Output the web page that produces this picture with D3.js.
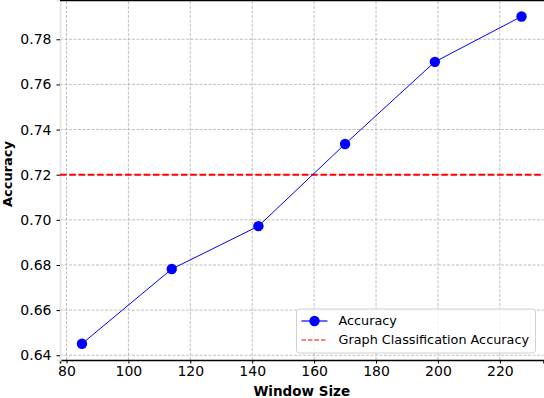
<!DOCTYPE html>
<html>

<head>
    <meta charset="UTF-8">
    <style>
        body { margin: 0; background: #fff; }
        svg { display: block; font-family: "DejaVu Sans", sans-serif; }
    </style>
</head>

<body>
    <svg></svg>
    <script src="https://d3js.org/d3.v7.min.js"></script>

    <script>

        let width = 544, height = 398;

        // data
        const windowSizes = [85, 114, 142, 170, 199, 227];
        const accuracy = [0.6451, 0.6782, 0.6972, 0.7336, 0.7700, 0.7901];
        const graphAccuracy = 0.72;
        const xTicks = [80, 100, 120, 140, 160, 180, 200, 220];
        const yTicks = [0.64, 0.66, 0.68, 0.70, 0.72, 0.74, 0.76, 0.78];
        const legendLabels = ["Accuracy", "Graph Classification Accuracy"];

        const margin = { top: 0, right: 0.5, bottom: 38, left: 60 };

        let svg = d3.select("svg")
            .attr("width", width)
            .attr("height", height)

        const x = d3.scaleLinear()
            .domain([77.9, 234.1])
            .range([margin.left, width - margin.right]);

        const y = d3.scaleLinear()
            .domain([0.6379, 0.7974])
            .range([height - margin.bottom, margin.top]);

        // grid
        let grid = svg.append("g").attr("class", "grid")
        grid.selectAll("line.gx")
            .data(xTicks)
            .enter()
            .append("line")
            .attr("x1", d => x(d)).attr("x2", d => x(d))
            .attr("y1", y.range()[0]).attr("y2", y.range()[1])
            .attr("stroke", "#b0b0b0")
            .attr("stroke-width", 0.8)
            .attr("stroke-dasharray", "3,1.5")
        grid.selectAll("line.gy")
            .data(yTicks)
            .enter()
            .append("line")
            .attr("y1", d => y(d)).attr("y2", d => y(d))
            .attr("x1", x.range()[0]).attr("x2", x.range()[1])
            .attr("stroke", "#b0b0b0")
            .attr("stroke-width", 0.8)
            .attr("stroke-dasharray", "3,1.5")

        // axes
        svg.append("g")
            .attr("transform", "translate(0," + y.range()[0] + ")")
            .call(d3.axisBottom(x).tickValues(xTicks).tickFormat(d3.format("d")).tickSize(3.5).tickPadding(3))
            .call(g => g.select(".domain").attr("stroke", "#000").attr("stroke-width", 1.5))
            .call(g => g.selectAll("text").attr("font-size", 14).attr("fill", "#000").attr("font-family", "DejaVu Sans"))

        svg.append("g")
            .attr("transform", "translate(" + x.range()[0] + ",0)")
            .call(d3.axisLeft(y).tickValues(yTicks).tickFormat(d3.format(".2f")).tickSize(3.5).tickPadding(5))
            .call(g => g.select(".domain").attr("stroke", "#e6e6e6").attr("stroke-width", 2))
            .call(g => g.selectAll("text").attr("font-size", 14).attr("fill", "#000").attr("font-family", "DejaVu Sans"))

        // top spine
        svg.append("line")
            .attr("x1", x.range()[0]).attr("x2", width)
            .attr("y1", 0.5).attr("y2", 0.5)
            .attr("stroke", "#000")
            .attr("stroke-width", 1.5)

        // axis labels
        svg.append("text")
            .attr("x", (x.range()[0] + x.range()[1]) / 2)
            .attr("y", 396)
            .attr("text-anchor", "middle")
            .attr("font-size", 13.5)
            .attr("font-weight", "bold")
            .text("Window Size")

        svg.append("text")
            .attr("transform", "translate(12,174) rotate(-90)")
            .attr("text-anchor", "middle")
            .attr("font-size", 13)
            .attr("font-weight", "bold")
            .text("Accuracy")

        // reference line
        svg.append("line")
            .attr("x1", x.range()[0]).attr("x2", x.range()[1])
            .attr("y1", y(graphAccuracy)).attr("y2", y(graphAccuracy))
            .attr("stroke", "red")
            .attr("stroke-width", 2)
            .attr("stroke-dasharray", "6.5,2.8")

        // accuracy line
        const pts = windowSizes.map((w, i) => [w, accuracy[i]]);
        svg.append("path")
            .datum(pts)
            .attr("fill", "none")
            .attr("stroke", "blue")
            .attr("stroke-width", 1)
            .attr("d", d3.line().x(d => x(d[0])).y(d => y(d[1])))

        svg.selectAll("circle.pt")
            .data(pts)
            .enter()
            .append("circle")
            .attr("class", "pt")
            .attr("cx", d => x(d[0]))
            .attr("cy", d => y(d[1]))
            .attr("r", 5.2)
            .attr("fill", "blue")

        // legend
        let legend = svg.append("g").attr("transform", "translate(296.5,309)")
        legend.append("rect")
            .attr("width", 239)
            .attr("height", 44)
            .attr("rx", 3)
            .attr("fill", "#fff")
            .attr("fill-opacity", 0.8)
            .attr("stroke", "#d0d0d0")
            .attr("stroke-width", 1)

        legend.append("line")
            .attr("x1", 5).attr("x2", 31).attr("y1", 12).attr("y2", 12)
            .attr("stroke", "blue").attr("stroke-width", 1.2)
        legend.append("circle")
            .attr("cx", 18).attr("cy", 12).attr("r", 5.2).attr("fill", "blue")
        legend.append("line")
            .attr("x1", 5).attr("x2", 31).attr("y1", 31).attr("y2", 31)
            .attr("stroke", "red").attr("stroke-width", 1.2)
            .attr("stroke-dasharray", "4.5,2")

        legend.selectAll("text")
            .data(legendLabels)
            .enter()
            .append("text")
            .attr("x", 42)
            .attr("y", (d, i) => 12 + i * 19)
            .attr("dy", "0.35em")
            .attr("font-size", 12.8)
            .text(d => d)

    </script>

</body>

</html>
